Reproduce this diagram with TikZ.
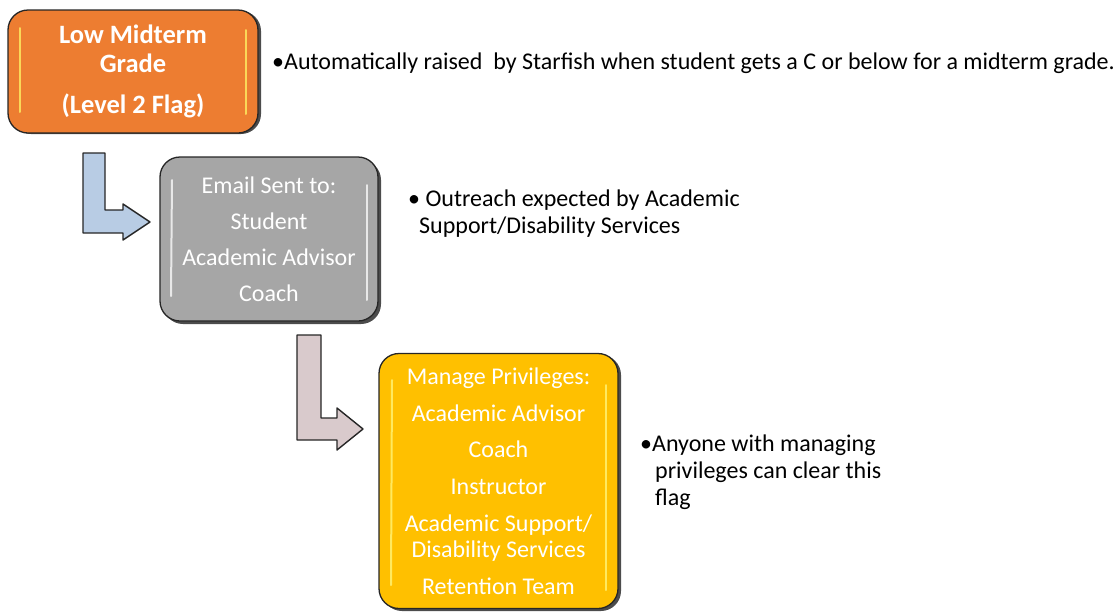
\documentclass[tikz,border=0pt]{standalone}
\usepackage{fontspec}
\setmainfont{Carlito}
\definecolor{orangebox}{HTML}{ED7D31}
\definecolor{graybox}{HTML}{A6A6A6}
\definecolor{yellowbox}{HTML}{FFC000}
\definecolor{arrowblue}{HTML}{B8CCE4}
\definecolor{arrowpink}{HTML}{D9CACC}
\definecolor{outline}{HTML}{262626}
\begin{document}
\begin{tikzpicture}[x=1pt,y=1pt,
  shadowbox/.style={fill=black!70, rounded corners=20pt},
  flowbox/.style={draw=outline, line width=1.3pt, rounded corners=20pt, inner sep=0pt, text=white, align=center},
  gloss/.style={draw=white, line width=2pt, line cap=round, opacity=0.75},
  bentarrow/.style={draw=outline, line width=1.4pt, line join=round},
  note/.style={anchor=base west, inner sep=0pt, font=\fontsize{24}{27}\selectfont, align=left}
]
\useasboundingbox (0,0) rectangle (1120,-611);

% shadows
\fill[shadowbox] (11,-11) rectangle (261,-134);
\fill[shadowbox] (163,-160) rectangle (381,-324);
\fill[shadowbox] (382,-355) rectangle (621,-611);

% boxes
\node[flowbox, fill=orangebox, minimum width=250pt, minimum height=123pt,
      font=\bfseries\fontsize{26.5}{29}\selectfont] (b1) at (133,-71.5)
  {Low Midterm\\Grade\\[12pt](Level 2 Flag)};
\node[flowbox, fill=graybox, minimum width=218pt, minimum height=164pt,
      font=\fontsize{24}{36}\selectfont] (b2) at (269,-239)
  {Email Sent to:\\Student\\Academic Advisor\\Coach};
\node[flowbox, fill=yellowbox, minimum width=239pt, minimum height=255pt,
      font=\fontsize{24}{36.7}\selectfont] (b3) at (498.5,-481)
  {Manage Privileges:\\Academic Advisor\\Coach\\Instructor\\Academic Support/\\[-10.5pt]Disability Services\\Retention Team};

% gloss highlights
\draw[gloss, draw=yellow!60!white] (20,-28) -- (20,-112);
\draw[gloss, draw=yellow!60!white] (246,-30) -- (246,-114);
\draw[gloss] (172,-180) -- (171,-296);
\draw[gloss] (367,-185) -- (367,-300);
\draw[gloss, draw=yellow!50!white] (392,-380) -- (391,-585);
\draw[gloss, draw=yellow!50!white] (606,-385) -- (606,-590);

% bent arrows
\coordinate (a1) at (83,-153);
\draw[bentarrow, fill=arrowblue] (a1) -- ++(22,0) -- (105,-210) -- (123,-210) -- (123,-204)
  -- (150,-222) -- (123,-240) -- (123,-233) -- (83,-233) -- cycle;
\coordinate (a2) at (297,-335);
\draw[bentarrow, fill=arrowpink] (a2) -- ++(24,0) -- (321,-418) -- (337,-418) -- (337,-408)
  -- (363,-429) -- (337,-450) -- (337,-440) -- (297,-440) -- cycle;

% notes
\node[note] (n1) at (272,-69) {•Automatically raised\ \ by Starfish when student gets a C or below for a midterm grade.};
\node[note] (n2) at (408,-233) {• Outreach expected by Academic\\\hspace*{11pt}Support/Disability Services};
\node[note] (n3) at (640,-505) {•Anyone with managing\\\hspace*{15pt}privileges can clear this\\\hspace*{15pt}flag};
\end{tikzpicture}
\end{document}
